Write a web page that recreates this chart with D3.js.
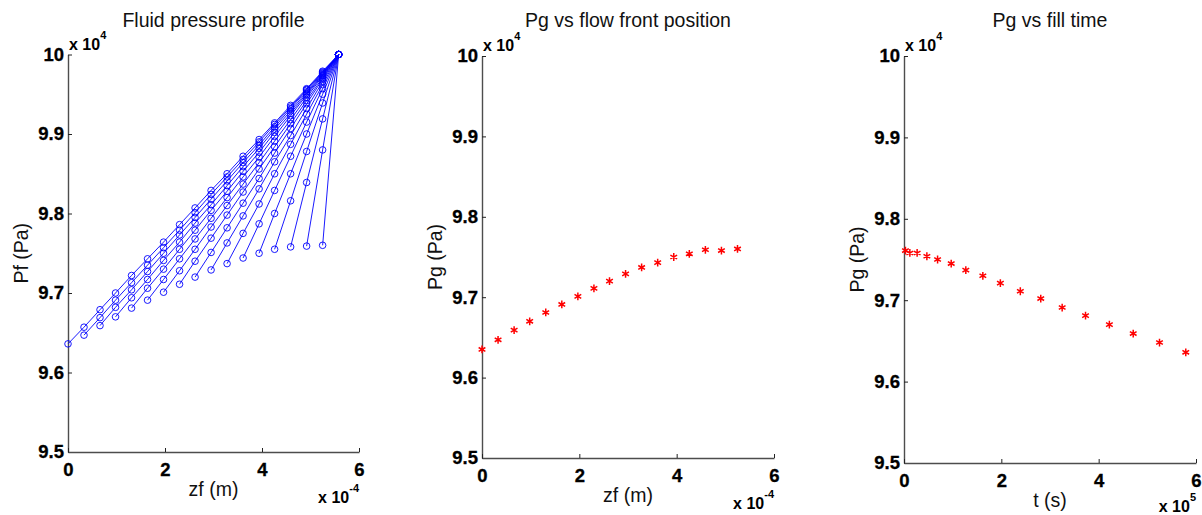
<!DOCTYPE html>
<html>
<head>
<meta charset="utf-8">
<script src="https://cdn.jsdelivr.net/npm/d3@7"></script>
<style>
  body { margin: 0; background: #fff; }
</style>
</head>
<body>
<div id="chart"></div>
<script>
// node positions along the column, x 1e-4 m
const zfNodes = [0, 0.33, 0.66, 0.98, 1.31, 1.64, 1.97, 2.30, 2.62, 2.95, 3.28, 3.61, 3.94, 4.26, 4.59, 4.92, 5.25, 5.58];

// fluid pressure profiles, x 1e4 Pa; profile k starts at node k
const pfProfiles = [
  [9.636, 9.657, 9.679, 9.700, 9.722, 9.743, 9.764, 9.786, 9.807, 9.829, 9.850, 9.872, 9.893, 9.914, 9.936, 9.957, 9.979, 10],
  [9.647, 9.669, 9.691, 9.713, 9.735, 9.757, 9.779, 9.801, 9.824, 9.846, 9.868, 9.890, 9.912, 9.934, 9.956, 9.978, 10],
  [9.659, 9.682, 9.704, 9.727, 9.750, 9.773, 9.795, 9.818, 9.841, 9.864, 9.886, 9.909, 9.932, 9.955, 9.977, 10],
  [9.670, 9.694, 9.717, 9.741, 9.764, 9.788, 9.811, 9.835, 9.859, 9.882, 9.906, 9.929, 9.953, 9.976, 10],
  [9.681, 9.706, 9.730, 9.755, 9.779, 9.804, 9.828, 9.853, 9.877, 9.902, 9.926, 9.951, 9.975, 10],
  [9.691, 9.717, 9.743, 9.768, 9.794, 9.820, 9.846, 9.871, 9.897, 9.923, 9.949, 9.974, 10],
  [9.701, 9.728, 9.755, 9.783, 9.810, 9.837, 9.864, 9.891, 9.918, 9.946, 9.973, 10],
  [9.711, 9.740, 9.769, 9.798, 9.827, 9.856, 9.884, 9.913, 9.942, 9.971, 10],
  [9.720, 9.751, 9.782, 9.813, 9.844, 9.876, 9.907, 9.938, 9.969, 10],
  [9.729, 9.763, 9.797, 9.831, 9.865, 9.898, 9.932, 9.966, 10],
  [9.737, 9.775, 9.812, 9.850, 9.887, 9.925, 9.962, 10],
  [9.744, 9.787, 9.829, 9.872, 9.915, 9.957, 10],
  [9.750, 9.800, 9.850, 9.900, 9.950, 10],
  [9.755, 9.816, 9.878, 9.939, 10],
  [9.758, 9.839, 9.919, 10],
  [9.759, 9.880, 10],
  [9.760, 10]
];

// gas pressure at the flow front
const zfFront = [0, 0.33, 0.66, 0.98, 1.31, 1.64, 1.97, 2.30, 2.62, 2.95, 3.28, 3.61, 3.94, 4.26, 4.59, 4.92, 5.25];
const pgFront = [9.635, 9.647, 9.659, 9.670, 9.681, 9.691, 9.701, 9.711, 9.720, 9.729, 9.737, 9.743, 9.750, 9.754, 9.759, 9.758, 9.760];

// gas pressure vs fill time, t x 1e5 s
const fillTime = [0.03, 0.12, 0.27, 0.47, 0.69, 0.97, 1.27, 1.62, 1.98, 2.39, 2.81, 3.25, 3.73, 4.22, 4.71, 5.25, 5.79];
const pgFill = [9.761, 9.758, 9.758, 9.754, 9.750, 9.745, 9.737, 9.730, 9.721, 9.711, 9.702, 9.691, 9.681, 9.670, 9.659, 9.648, 9.636];

const yTicks = [9.5, 9.6, 9.7, 9.8, 9.9, 10];
const xTicks = [0, 2, 4, 6];
const titles = ['Fluid pressure profile', 'Pg vs flow front position', 'Pg vs fill time'];
const xLabels = ['zf (m)', 'zf (m)', 't (s)'];
const yLabels = ['Pf (Pa)', 'Pg (Pa)', 'Pg (Pa)'];
const xExponents = ['-4', '-4', '5'];

const width = 1202;
const height = 515;
const panels = [
  {left: 68, right: 359, top: 54.5, bottom: 452},
  {left: 482, right: 774, top: 56, bottom: 458},
  {left: 904, right: 1196, top: 56, bottom: 463}
];

const tickFont = '"Liberation Sans", Arial, sans-serif';
const labelFont = '"Liberation Sans", Arial, sans-serif';
const fmt = d3.format('~g');

const svg = d3.select('#chart').append('svg')
  .attr('width', width)
  .attr('height', height);

function drawFrame(i) {
  const p = panels[i];
  const x = d3.scaleLinear().domain([0, 6]).range([p.left, p.right]);
  const y = d3.scaleLinear().domain([9.5, 10]).range([p.bottom, p.top]);
  const g = svg.append('g');

  const yAxis = g.append('g')
    .attr('transform', `translate(${p.left},0)`)
    .call(d3.axisLeft(y).tickValues(yTicks).tickFormat(fmt).tickSize(-4).tickSizeOuter(0).tickPadding(4));
  const xAxis = g.append('g')
    .attr('transform', `translate(0,${p.bottom})`)
    .call(d3.axisBottom(x).tickValues(xTicks).tickFormat(fmt).tickSize(-4).tickSizeOuter(0).tickPadding(11));

  [yAxis, xAxis].forEach(a => {
    a.attr('font-family', tickFont).attr('font-size', 18.5).attr('font-weight', 'bold');
    a.select('.domain').attr('stroke', '#4d4d4d').attr('stroke-width', 1.4);
    a.selectAll('.tick line').attr('stroke', '#222');
    a.selectAll('text')
      .attr('fill', '#000')
      .attr('stroke', '#000')
      .attr('stroke-width', 0.3);
  });

  // title
  g.append('text')
    .attr('x', (p.left + p.right) / 2)
    .attr('y', 27)
    .attr('text-anchor', 'middle')
    .attr('fill', '#111')
    .style('font-family', labelFont)
    .style('font-size', '19.5px')
    .text(titles[i]);

  // axis labels
  g.append('text')
    .attr('x', (p.left + p.right) / 2)
    .attr('y', p.bottom + 44)
    .attr('text-anchor', 'middle')
    .attr('fill', '#111')
    .style('font-family', labelFont)
    .style('font-size', '19.5px')
    .text(xLabels[i]);

  g.append('text')
    .attr('transform', `translate(${p.left - 40},${(p.top + p.bottom) / 2}) rotate(-90)`)
    .attr('text-anchor', 'middle')
    .attr('fill', '#111')
    .style('font-family', labelFont)
    .style('font-size', '19.5px')
    .text(yLabels[i]);

  // exponent labels
  const yExp = g.append('text')
    .attr('x', p.left + 1)
    .attr('y', p.top - 5)
    .attr('fill', '#000')
    .style('font-family', tickFont)
    .style('font-weight', '700')
    .style('font-size', '16px')
    .text('x 10');
  yExp.append('tspan')
    .attr('dy', -11)
    .style('font-size', '11px')
    .text('4');

  const xExp = g.append('text')
    .attr('x', p.right)
    .attr('y', Math.min(p.bottom + 51, height - 3))
    .attr('text-anchor', 'end')
    .attr('fill', '#000')
    .style('font-family', tickFont)
    .style('font-weight', '700')
    .style('font-size', '16px')
    .text('x 10');
  xExp.append('tspan')
    .attr('dy', -11)
    .style('font-size', '11px')
    .text(xExponents[i]);

  return {g, x, y};
}

// panel 1: fluid pressure profiles
{
  const {g, x, y} = drawFrame(0);
  const line = d3.line()
    .x(d => x(d[0]))
    .y(d => y(d[1]));

  pfProfiles.forEach((profile, k) => {
    const pts = profile.map((v, j) => [zfNodes[k + j], v]);
    g.append('path')
      .datum(pts)
      .attr('d', line)
      .attr('fill', 'none')
      .attr('stroke', '#0000ff')
      .attr('stroke-width', 0.9);

    g.selectAll(null)
      .data(pts)
      .enter().append('circle')
      .attr('cx', d => x(d[0]))
      .attr('cy', d => y(d[1]))
      .attr('r', 3.3)
      .attr('fill', 'none')
      .attr('stroke', '#0000ff')
      .attr('stroke-width', 0.9);
  });
}

// panels 2 and 3: red asterisks
const star = d3.symbol(d3.symbolAsterisk, 42);

function drawStars(i, xs, ys) {
  const {g, x, y} = drawFrame(i);
  g.selectAll(null)
    .data(xs.map((v, k) => [v, ys[k]]))
    .enter().append('path')
    .attr('transform', d => `translate(${x(d[0])},${y(d[1])})`)
    .attr('d', star)
    .attr('fill', 'none')
    .attr('stroke', '#ff0000')
    .attr('stroke-width', 1.5);
}

drawStars(1, zfFront, pgFront);
drawStars(2, fillTime, pgFill);
</script>
</body>
</html>
